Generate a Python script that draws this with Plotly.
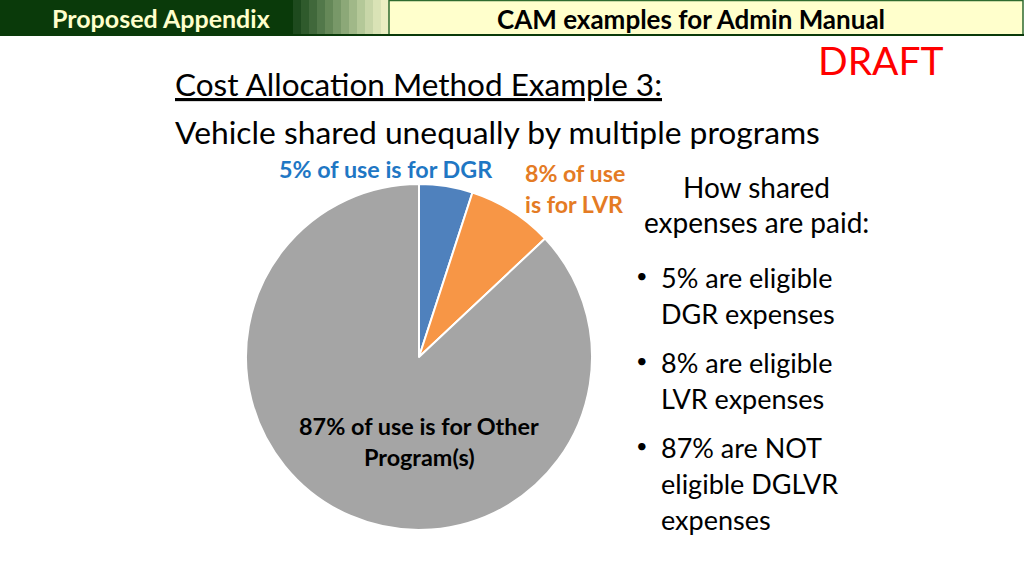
import plotly.graph_objects as go

W, H = 1024, 576

# ---- data ----
slice_labels = ["DGR", "LVR", "Other Program(s)"]
slice_values = [5, 8, 87]
slice_colors = ["#4F81BD", "#F79646", "#A5A5A5"]

header_left = "Proposed Appendix"
header_right = "CAM examples for Admin Manual"
title_line1 = "Cost Allocation Method Example 3:"
title_line2 = "Vehicle shared unequally by multiple programs"
label_dgr = "5% of use is for DGR"
label_lvr = ["8% of use", "is for LVR"]
label_other = ["87% of use is for Other", "Program(s)"]
side_heading = ["How shared", "expenses are paid:"]
bullets = [
    ["5% are eligible", "DGR expenses"],
    ["8% are eligible", "LVR expenses"],
    ["87% are NOT", "eligible DGLVR", "expenses"],
]


def px(x):
    return x / W


def py(y):
    return 1 - y / H


FONT = "Lato"

fig = go.Figure()

# pie: center (419,357), radius 173
cx, cy, r = 419, 357, 173
fig.add_trace(go.Pie(
    labels=slice_labels,
    values=slice_values,
    sort=False,
    direction="clockwise",
    rotation=0,
    marker=dict(colors=slice_colors, line=dict(color="white", width=2)),
    textinfo="none",
    hoverinfo="label+percent",
    showlegend=False,
    domain=dict(x=[px(cx - r), px(cx + r)], y=[py(cy + r), py(cy - r)]),
))

shapes = []
# header dark green bar
shapes.append(dict(type="rect", xref="paper", yref="paper",
                   x0=0, x1=px(294), y0=py(35), y1=1,
                   fillcolor="#0A3A0A", line=dict(width=0), layer="below"))
# gradient stripes
stripe_cols = ["#1E4A1E", "#2F5A2C", "#40683B", "#52784A", "#658858", "#789868",
               "#8CA878", "#A0B888", "#B4C898", "#C8D6A8", "#DAE3B6", "#EBEEC2"]
sx = 293
sw = 8
for i, c in enumerate(stripe_cols):
    shapes.append(dict(type="rect", xref="paper", yref="paper",
                       x0=px(sx + i * sw), x1=px(sx + (i + 1) * sw + 0.5),
                       y0=py(35), y1=1,
                       fillcolor=c, line=dict(width=0), layer="below"))
# yellow box
shapes.append(dict(type="rect", xref="paper", yref="paper",
                   x0=px(389), x1=px(1023), y0=py(35), y1=py(0.5),
                   fillcolor="#FFFFCC", line=dict(color="#2F6B2F", width=1.5), layer="below"))
# bottom line of header
shapes.append(dict(type="line", xref="paper", yref="paper",
                   x0=0, x1=1, y0=py(35), y1=py(35),
                   line=dict(color="#0A3A0A", width=2)))

ann = []


def add_text(text, x, y, size, color="black", bold=False, xanchor="left", family=FONT):
    t = f"<b>{text}</b>" if bold else text
    ann.append(dict(text=t, x=px(x), y=py(y), xref="paper", yref="paper",
                    xanchor=xanchor, yanchor="middle", showarrow=False,
                    font=dict(family=family, size=size, color=color)))


add_text(header_left, 161, 18, 25, color="#FFFFCC", bold=True, xanchor="center")
add_text(header_right, 691, 19, 26, color="black", bold=True, xanchor="center")
add_text("DRAFT", 881, 60, 39, color="#FF0000", xanchor="center")

add_text(f"<u>{title_line1}</u>", 173, 84, 31.5)
add_text(title_line2, 173, 132, 31.8)

add_text(label_dgr, 386, 169, 23.3, color="#1F77C4", bold=True, xanchor="center")
add_text(label_lvr[0], 523, 173, 23.2, color="#E47B24", bold=True)
add_text(label_lvr[1], 523, 204, 23.2, color="#E47B24", bold=True)

add_text(label_other[0], 419, 426, 23.4, color="black", bold=True, xanchor="center")
add_text(label_other[1], 419, 457, 23.4, color="black", bold=True, xanchor="center")

add_text(side_heading[0], 756, 187, 28, xanchor="center")
add_text(side_heading[1], 756, 222, 28, xanchor="center")

bullet_y = [277, 362, 447]
for by, lines in zip(bullet_y, bullets):
    add_text("•", 634, by - 2, 20)
    for j, line in enumerate(lines):
        add_text(line, 659, by + j * 36, 27)

fig.update_layout(
    width=W, height=H,
    margin=dict(l=0, r=0, t=0, b=0),
    paper_bgcolor="white",
    plot_bgcolor="white",
    shapes=shapes,
    annotations=ann,
)

fig.write_html("out.html", config={"displayModeBar": False},
               post_script="document.body.style.margin='0px';")
